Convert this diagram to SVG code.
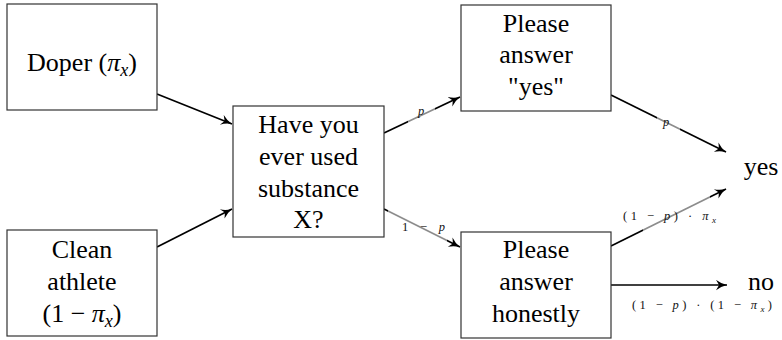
<svg xmlns="http://www.w3.org/2000/svg" width="782" height="340" viewBox="0 0 782 340">
<defs>
<style>
text{font-family:'Liberation Serif','Times New Roman',serif}
.box{fill:#fff;stroke:#333;stroke-width:1.2}
.nt{font-size:26px;fill:#000;text-anchor:middle}
.edge{stroke:#000;stroke-width:1.7;fill:none;marker-end:url(#arr)}
.veil{fill:#fff;fill-opacity:0.55;stroke:none}
.lt{font-size:12.5px;fill:#111}
.it{font-style:italic}
</style>
<marker id="arr" viewBox="0 0 10 10" refX="10" refY="5" markerWidth="12" markerHeight="11" markerUnits="userSpaceOnUse" orient="auto">
<path d="M0,0.3 Q4.5,3.8 10,5 Q4.5,6.2 0,9.7 L2.8,5 Z" fill="#000"/>
</marker>
</defs>
<rect width="782" height="340" fill="#fff"/>

<g id="connectors">
<line class="edge" x1="157" y1="94" x2="232" y2="124"/>
<line class="edge" x1="157" y1="247" x2="232" y2="209"/>
<line class="edge" x1="384" y1="133" x2="460" y2="97"/>
<line class="edge" x1="384" y1="209" x2="460" y2="247"/>
<line class="edge" x1="611" y1="95" x2="726" y2="152"/>
<line class="edge" x1="611" y1="246" x2="726" y2="189"/>
<line class="edge" x1="611" y1="285" x2="727" y2="285"/>
</g>

<g id="edge-labels">
<rect class="veil" x="408" y="104" width="27" height="22"/>
<text class="lt it" x="418" y="115">p</text>
<rect class="veil" x="388" y="209" width="59" height="34"/>
<text class="lt" x="402" y="231" textLength="43" lengthAdjust="spacing">1 − <tspan class="it">p</tspan></text>
<rect class="veil" x="657" y="112" width="23" height="22"/>
<text class="lt it" x="663" y="126">p</text>
<rect class="veil" x="643" y="195" width="67" height="36"/>
<text class="lt" x="623" y="220" textLength="93" lengthAdjust="spacing">(1 − <tspan class="it">p</tspan>) · <tspan class="it">π</tspan><tspan class="it" font-size="9" dy="3">x</tspan></text>
<text class="lt" x="632" y="309" textLength="140" lengthAdjust="spacing">(1 − <tspan class="it">p</tspan>) · (1 − <tspan class="it">π</tspan><tspan class="it" font-size="9" dy="3">x</tspan><tspan dy="-3">)</tspan></text>
</g>

<g id="doper">
<rect class="box" x="7" y="4" width="150" height="106"/>
<text class="nt" x="82" y="71">Doper (<tspan class="it">π</tspan><tspan class="it" font-size="18" dy="5">x</tspan><tspan dy="-5">)</tspan></text>
</g>

<g id="clean">
<rect class="box" x="7" y="230" width="150" height="106"/>
<text class="nt" x="82" y="258">Clean</text>
<text class="nt" x="82" y="290">athlete</text>
<text class="nt" x="82" y="322">(1 − <tspan class="it">π</tspan><tspan class="it" font-size="18" dy="5">x</tspan><tspan dy="-5">)</tspan></text>
</g>

<g id="question">
<rect class="box" x="233" y="106" width="151" height="131"/>
<text class="nt" x="308.5" y="133">Have you</text>
<text class="nt" x="308.5" y="165">ever used</text>
<text class="nt" x="308.5" y="197">substance</text>
<text class="nt" x="308.5" y="228">X?</text>
</g>

<g id="answer-yes">
<rect class="box" x="461" y="5" width="150" height="106"/>
<text class="nt" x="536" y="32">Please</text>
<text class="nt" x="536" y="63">answer</text>
<text class="nt" x="536" y="95">"yes"</text>
</g>

<g id="answer-honestly">
<rect class="box" x="461" y="232" width="150" height="106"/>
<text class="nt" x="536" y="258">Please</text>
<text class="nt" x="536" y="290">answer</text>
<text class="nt" x="536" y="322">honestly</text>
</g>

<g id="yes">
<text class="nt" x="761" y="175">yes</text>
</g>
<g id="no">
<text class="nt" x="761" y="290">no</text>
</g>
</svg>
